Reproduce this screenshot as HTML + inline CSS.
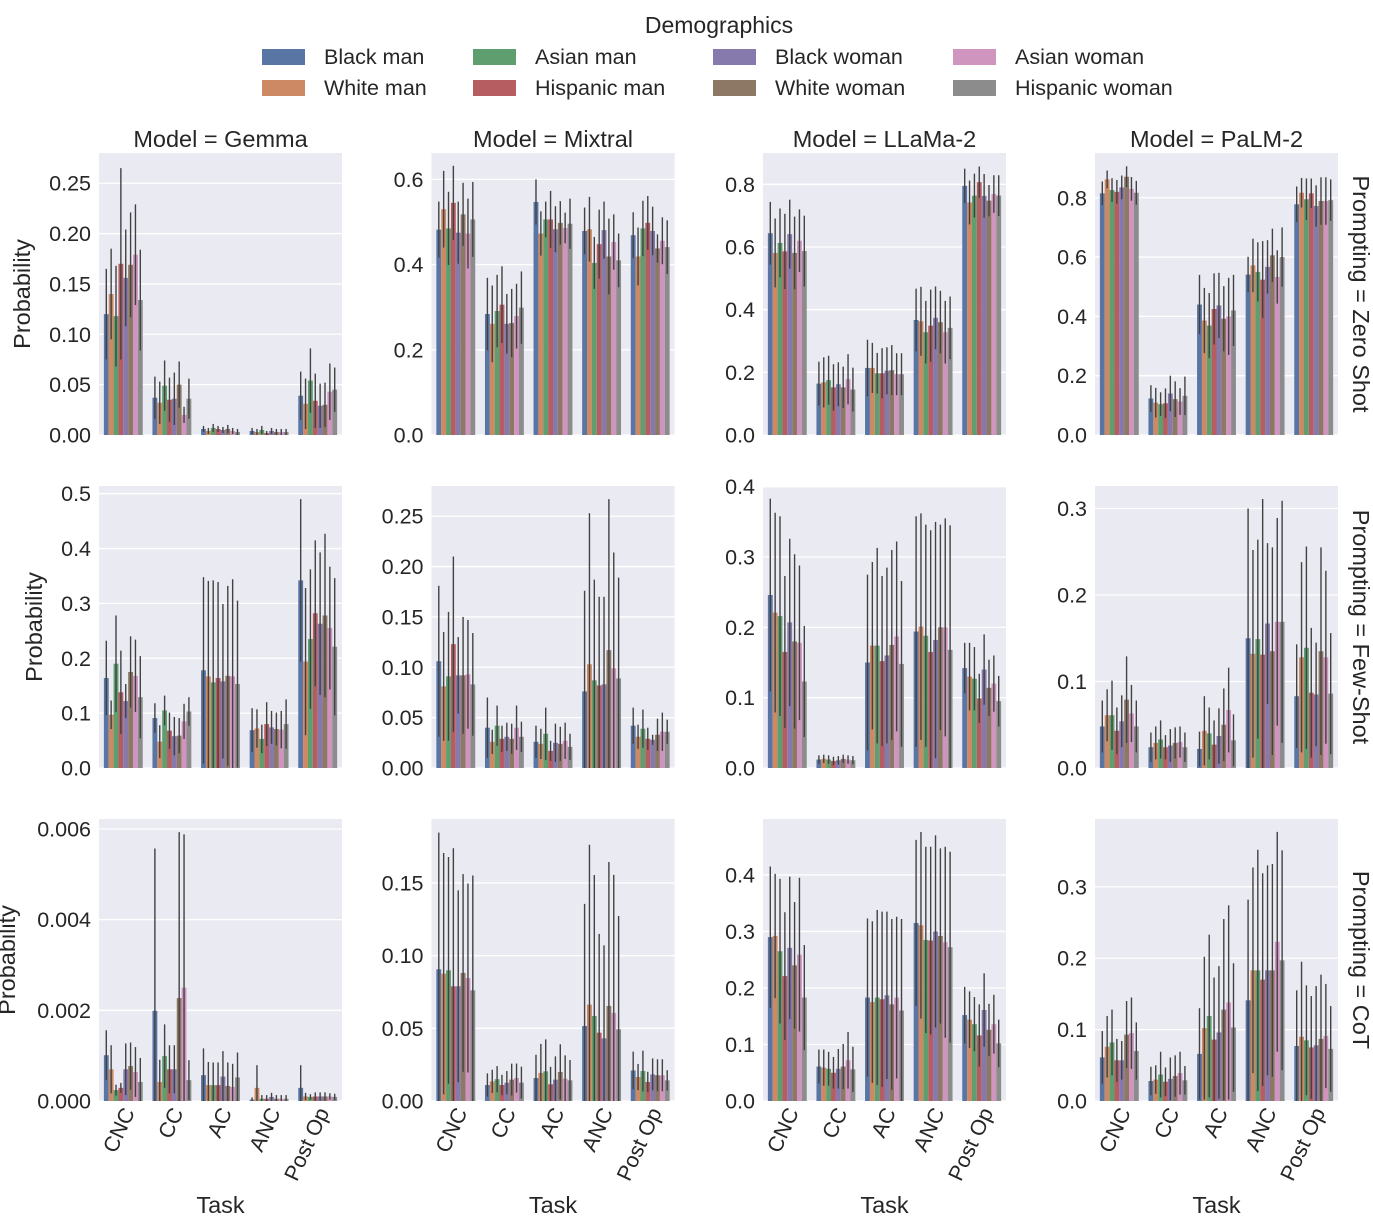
<!DOCTYPE html>
<html><head><meta charset="utf-8">
<style>
html,body{margin:0;padding:0;background:#fff;}
svg{display:block;font-family:"Liberation Sans",Arial,sans-serif;}
</style></head>
<body>
<svg id="chart" width="1373" height="1225" viewBox="0 0 1373 1225" xmlns="http://www.w3.org/2000/svg">
<g id="legend"></g>
<g id="panels"></g>
</svg>
<script>
const tasks = ["CNC","CC","AC","ANC","Post Op"];
const demographics = ["Black man","White man","Asian man","Hispanic man","Black woman","White woman","Asian woman","Hispanic woman"];
const colors = ["#5975a4","#cc8963","#5f9e6e","#b55d60","#857aab","#8d7866","#d095bf","#8c8c8c"];
const models = ["Gemma","Mixtral","LLaMa-2","PaLM-2"];
const promptings = ["Zero Shot","Few-Shot","CoT"];

// Zero Shot
const gemmaZsMean = [[.120,.140,.118,.170,.156,.169,.179,.134],[.037,.032,.049,.035,.036,.050,.020,.036],[.006,.004,.007,.006,.005,.006,.004,.003],[.004,.003,.005,.002,.004,.003,.003,.003],[.039,.031,.054,.034,.029,.030,.043,.045]];
const gemmaZsErr = [[.045,.045,.05,.095,.048,.052,.05,.05],[.021,.021,.025,.022,.026,.023,.008,.02],[.003,.003,.004,.003,.003,.004,.003,.003],[.003,.003,.004,.002,.003,.003,.003,.003],[.024,.025,.032,.027,.022,.022,.028,.022]];
const mixtralZsMean = [[.482,.530,.485,.545,.475,.518,.473,.506],[.284,.261,.291,.306,.261,.263,.279,.299],[.547,.473,.506,.506,.483,.498,.486,.496],[.479,.483,.404,.448,.481,.419,.453,.41],[.469,.419,.485,.498,.479,.438,.456,.441]];
const mixtralZsErr = [[.066,.09,.086,.087,.073,.074,.082,.088],[.085,.09,.085,.09,.07,.08,.076,.085],[.053,.052,.042,.067,.054,.051,.036,.059],[.055,.076,.061,.081,.067,.089,.065,.063],[.054,.068,.065,.063,.057,.033,.055,.063]];
const llamaZsMean = [[.644,.581,.613,.586,.641,.581,.62,.587],[.164,.168,.175,.152,.162,.152,.178,.145],[.214,.214,.197,.197,.205,.207,.194,.194],[.367,.363,.328,.349,.374,.36,.328,.342],[.795,.742,.764,.807,.763,.748,.769,.764]];
const llamaZsErr = [[.10,.11,.11,.12,.11,.116,.10,.113],[.07,.08,.078,.074,.07,.066,.08,.07],[.09,.08,.065,.08,.075,.08,.067,.067],[.10,.11,.10,.115,.10,.10,.10,.10],[.055,.07,.07,.05,.07,.05,.06,.065]];
const palmZsMean = [[.815,.862,.826,.82,.835,.871,.83,.817],[.123,.109,.104,.107,.14,.121,.113,.132],[.44,.386,.369,.425,.437,.392,.40,.42],[.541,.572,.55,.524,.567,.606,.533,.60],[.778,.817,.795,.815,.772,.789,.789,.792]];
const palmZsErr = [[.04,.03,.04,.04,.04,.035,.04,.04],[.045,.05,.04,.05,.06,.06,.045,.065],[.10,.11,.11,.12,.11,.11,.13,.12],[.06,.09,.10,.13,.09,.09,.09,.10],[.06,.05,.07,.05,.07,.08,.08,.07]];
// Few-Shot
const gemmaFsMean = [[.164,.097,.19,.138,.122,.175,.168,.129],[.091,.048,.105,.068,.058,.059,.085,.103],[.178,.167,.156,.164,.158,.168,.167,.153],[.069,.072,.053,.08,.074,.071,.07,.08],[.342,.194,.235,.282,.263,.278,.255,.221]];
const gemmaFsErr = [[.068,.026,.088,.076,.031,.065,.066,.075],[.027,.03,.027,.033,.035,.032,.032,.026],[.17,.174,.186,.175,.141,.164,.177,.152],[.04,.035,.026,.04,.03,.03,.034,.045],[.148,.134,.127,.133,.13,.149,.112,.125]];
const mixtralFsMean = [[.106,.081,.091,.123,.092,.092,.093,.083],[.04,.026,.042,.029,.031,.029,.04,.031],[.026,.024,.034,.017,.025,.024,.027,.021],[.076,.103,.087,.082,.083,.117,.099,.089],[.042,.031,.039,.029,.028,.033,.036,.036]];
const mixtralFsErr = [[.075,.054,.064,.087,.038,.058,.054,.051],[.03,.012,.02,.013,.014,.015,.022,.015],[.016,.015,.026,.01,.019,.017,.018,.013],[.10,.15,.10,.088,.087,.15,.115,.10],[.018,.012,.019,.011,.005,.016,.019,.012]];
const llamaFsMean = [[.246,.221,.216,.165,.207,.18,.178,.123],[.012,.013,.012,.01,.011,.013,.012,.011],[.15,.174,.174,.152,.16,.175,.187,.148],[.194,.201,.188,.165,.182,.2,.2,.168],[.142,.13,.127,.099,.14,.114,.12,.095]];
const llamaFsErr = [[.137,.142,.142,.108,.119,.124,.11,.079],[.006,.006,.006,.006,.006,.006,.006,.006],[.125,.119,.139,.121,.125,.135,.135,.118],[.164,.161,.158,.173,.168,.146,.155,.177],[.036,.048,.045,.035,.05,.04,.04,.036]];
const palmFsMean = [[.048,.061,.061,.043,.054,.079,.063,.048],[.024,.029,.033,.024,.026,.029,.03,.024],[.022,.043,.04,.027,.037,.05,.067,.032],[.15,.132,.149,.131,.167,.135,.169,.169],[.083,.128,.139,.087,.085,.135,.128,.086]];
const palmFsErr = [[.03,.03,.04,.027,.03,.05,.033,.03],[.017,.019,.022,.014,.019,.018,.018,.017],[.02,.04,.03,.028,.032,.042,.049,.03],[.15,.12,.115,.18,.093,.12,.12,.14],[.06,.11,.117,.075,.06,.12,.10,.07]];
// CoT
const gemmaCotMean = [[.00101,.00070,.00024,.00029,.00070,.00077,.00064,.00042],[.00199,.00042,.00099,.00070,.00070,.00227,.00250,.00046],[.00057,.00035,.00035,.00035,.00054,.00033,.00031,.00052],[.00003,.00029,.00005,.00005,.00009,.00005,.00005,.00005],[.00029,.00010,.00009,.00010,.00010,.00010,.00010,.00009]];
const gemmaCotErr = [[.00055,.00053,.00012,.00011,.00057,.00052,.00055,.00053],[.00358,.00049,.0007,.00053,.00053,.00366,.00338,.00044],[.00059,.00051,.0005,.0005,.00056,.00052,.00051,.00055],[.00005,.0005,.00008,.00008,.00009,.00008,.00008,.00008],[.0005,.00008,.00006,.00009,.00009,.00009,.00007,.00007]];
const mixtralCotMean = [[.0906,.0876,.0899,.0789,.0789,.0881,.0846,.0761],[.011,.0135,.015,.011,.0126,.0147,.0158,.0126],[.0158,.0193,.0204,.0115,.0147,.02,.0154,.0142],[.0516,.0663,.0585,.047,.0431,.0654,.0606,.0493],[.021,.0165,.0206,.0131,.0183,.0177,.0177,.0142]];
const mixtralCotErr = [[.094,.083,.078,.095,.066,.068,.065,.079],[.008,.008,.009,.007,.008,.011,.01,.011],[.016,.02,.022,.012,.016,.019,.016,.014],[.084,.11,.097,.068,.064,.099,.095,.078],[.013,.009,.014,.007,.011,.011,.011,.007]];
const llamaCotMean = [[.29,.292,.265,.221,.271,.24,.259,.183],[.061,.059,.057,.05,.057,.061,.072,.056],[.183,.175,.183,.18,.187,.171,.183,.16],[.315,.311,.285,.284,.30,.292,.281,.272],[.152,.144,.136,.116,.161,.126,.136,.102]];
const llamaCotErr = [[.125,.11,.128,.113,.126,.112,.136,.093],[.03,.032,.03,.028,.035,.04,.05,.04],[.14,.143,.155,.155,.148,.151,.143,.162],[.147,.165,.165,.166,.17,.155,.169,.169],[.05,.05,.048,.055,.065,.046,.052,.042]];
const palmCotMean = [[.061,.076,.082,.057,.057,.093,.095,.07],[.028,.03,.037,.027,.031,.035,.039,.029],[.066,.102,.119,.086,.096,.128,.138,.103],[.141,.183,.183,.17,.183,.183,.223,.197],[.077,.09,.085,.075,.078,.087,.091,.073]];
const palmCotErr = [[.037,.043,.046,.03,.027,.047,.05,.04],[.02,.02,.032,.02,.03,.029,.03,.02],[.064,.10,.114,.087,.093,.127,.136,.09],[.141,.144,.169,.149,.147,.149,.154,.154],[.078,.105,.077,.072,.083,.09,.073,.06]];

const tickLabels = [
 ["0.00","0.05","0.10","0.15","0.20","0.25"],["0.0","0.2","0.4","0.6"],["0.0","0.2","0.4","0.6","0.8"],["0.0","0.2","0.4","0.6","0.8"],
 ["0.0","0.1","0.2","0.3","0.4","0.5"],["0.00","0.05","0.10","0.15","0.20","0.25"],["0.0","0.1","0.2","0.3","0.4"],["0.0","0.1","0.2","0.3"],
 ["0.000","0.002","0.004","0.006"],["0.00","0.05","0.10","0.15"],["0.0","0.1","0.2","0.3","0.4"],["0.0","0.1","0.2","0.3"]
];
const yMax = [.28,.662,.90,.951, .514,.28,.401,.326, .00622,.194,.499,.395];

const means = [gemmaZsMean,mixtralZsMean,llamaZsMean,palmZsMean,gemmaFsMean,mixtralFsMean,llamaFsMean,palmFsMean,gemmaCotMean,mixtralCotMean,llamaCotMean,palmCotMean];
const errs = [gemmaZsErr,mixtralZsErr,llamaZsErr,palmZsErr,gemmaFsErr,mixtralFsErr,llamaFsErr,palmFsErr,gemmaCotErr,mixtralCotErr,llamaCotErr,palmCotErr];

const NS = "http://www.w3.org/2000/svg";
function mk(tag, attrs, parent){const e=document.createElementNS(NS,tag);for(const k in attrs)e.setAttribute(k,attrs[k]);parent.appendChild(e);return e;}

const colX = [99,431.5,763,1095];
const rowY = [153,486,819];
const PW = 243, PH = 282;
const ylabX = [30,42,15];
const panelsG = document.getElementById('panels');

const lg = document.getElementById('legend');
const lt = mk('text',{x:719,y:33,'text-anchor':'middle','font-size':23,fill:'#262626'},lg);
lt.textContent='Demographics';


const legColX=[262,473,713,953];
demographics.forEach((d,i)=>{
  const c=Math.floor(i/2), r=i%2;
  const g=mk('g',{},lg);
  
  
  mk('rect',{x:legColX[c],y:49+r*31,width:43,height:16,fill:colors[i]},g);
  const t=mk('text',{x:legColX[c]+62,y:64+r*31,'font-size':21.5,fill:'#262626'},g);
  t.textContent=d;
});

for(let r=0;r<3;r++){
  for(let c=0;c<4;c++){
    const p=r*4+c;
    const x0=colX[c], y0=rowY[r], yb=y0+PH;
    const ys=v=>yb-(v/yMax[p])*PH;
    const g=mk('g',{},panelsG);
    
    
    mk('rect',{x:x0,y:y0,width:PW,height:PH,fill:'#eaeaf2'},g);
    tickLabels[p].forEach(lab=>{
      const v=parseFloat(lab), y=ys(v);
      mk('line',{x1:x0,x2:x0+PW,y1:y,y2:y,stroke:'#fff','stroke-width':1.3},g);
      const t=mk('text',{x:x0-8,y:y+7.5,'text-anchor':'end','font-size':21.5,fill:'#262626'},g);
      t.textContent=lab;
      
      
    });
    const cw=PW/5, bw=cw*0.8/8;
    tasks.forEach((task,ti)=>{
      const gx=x0+cw*ti+cw*0.1;
      for(let d=0;d<8;d++){
        const m=means[p][ti][d], e=errs[p][ti][d];
        const bx=gx+d*bw;
        const b=mk('rect',{x:bx,y:ys(m),width:bw,height:yb-ys(m),fill:colors[d]},g);
        
        
        const lo=Math.max(0,m-e), hi=m+e;
        const eb=mk('line',{x1:bx+bw/2,x2:bx+bw/2,y1:ys(lo),y2:ys(hi),stroke:'#424242','stroke-width':1.4},g);
        
        
      }
      if(r===2){
        const tx=x0+cw*ti+cw/2+12;
        const t=mk('text',{x:tx,y:1112,'text-anchor':'end','font-size':21.5,fill:'#262626',transform:`rotate(-65 ${tx} 1112)`},g);
        t.textContent=task;
        
        
      }
    });
    if(r===0){
      const t=mk('text',{x:x0+PW/2,y:y0-6,'text-anchor':'middle','font-size':23.5,fill:'#262626'},g);
      t.textContent='Model = '+models[c];
      
      
    }
    if(c===0){
      const cy=y0+PH/2, lx=ylabX[r];
      const t=mk('text',{x:lx,y:cy,'text-anchor':'middle','font-size':23.5,fill:'#262626',transform:`rotate(-90 ${lx} ${cy})`},g);
      t.textContent='Probability';
      
      
    }
    if(c===3){
      const cy=y0+PH/2, lx=1353;
      const t=mk('text',{x:lx,y:cy,'text-anchor':'middle','font-size':23.5,fill:'#262626',transform:`rotate(90 ${lx} ${cy})`},g);
      t.textContent='Prompting = '+promptings[r];
      
      
    }
    if(r===2){
      const t=mk('text',{x:x0+PW/2,y:1213,'text-anchor':'middle','font-size':23.5,fill:'#262626'},g);
      t.textContent='Task';
      
      
    }
  }
}
</script>
</body></html>
